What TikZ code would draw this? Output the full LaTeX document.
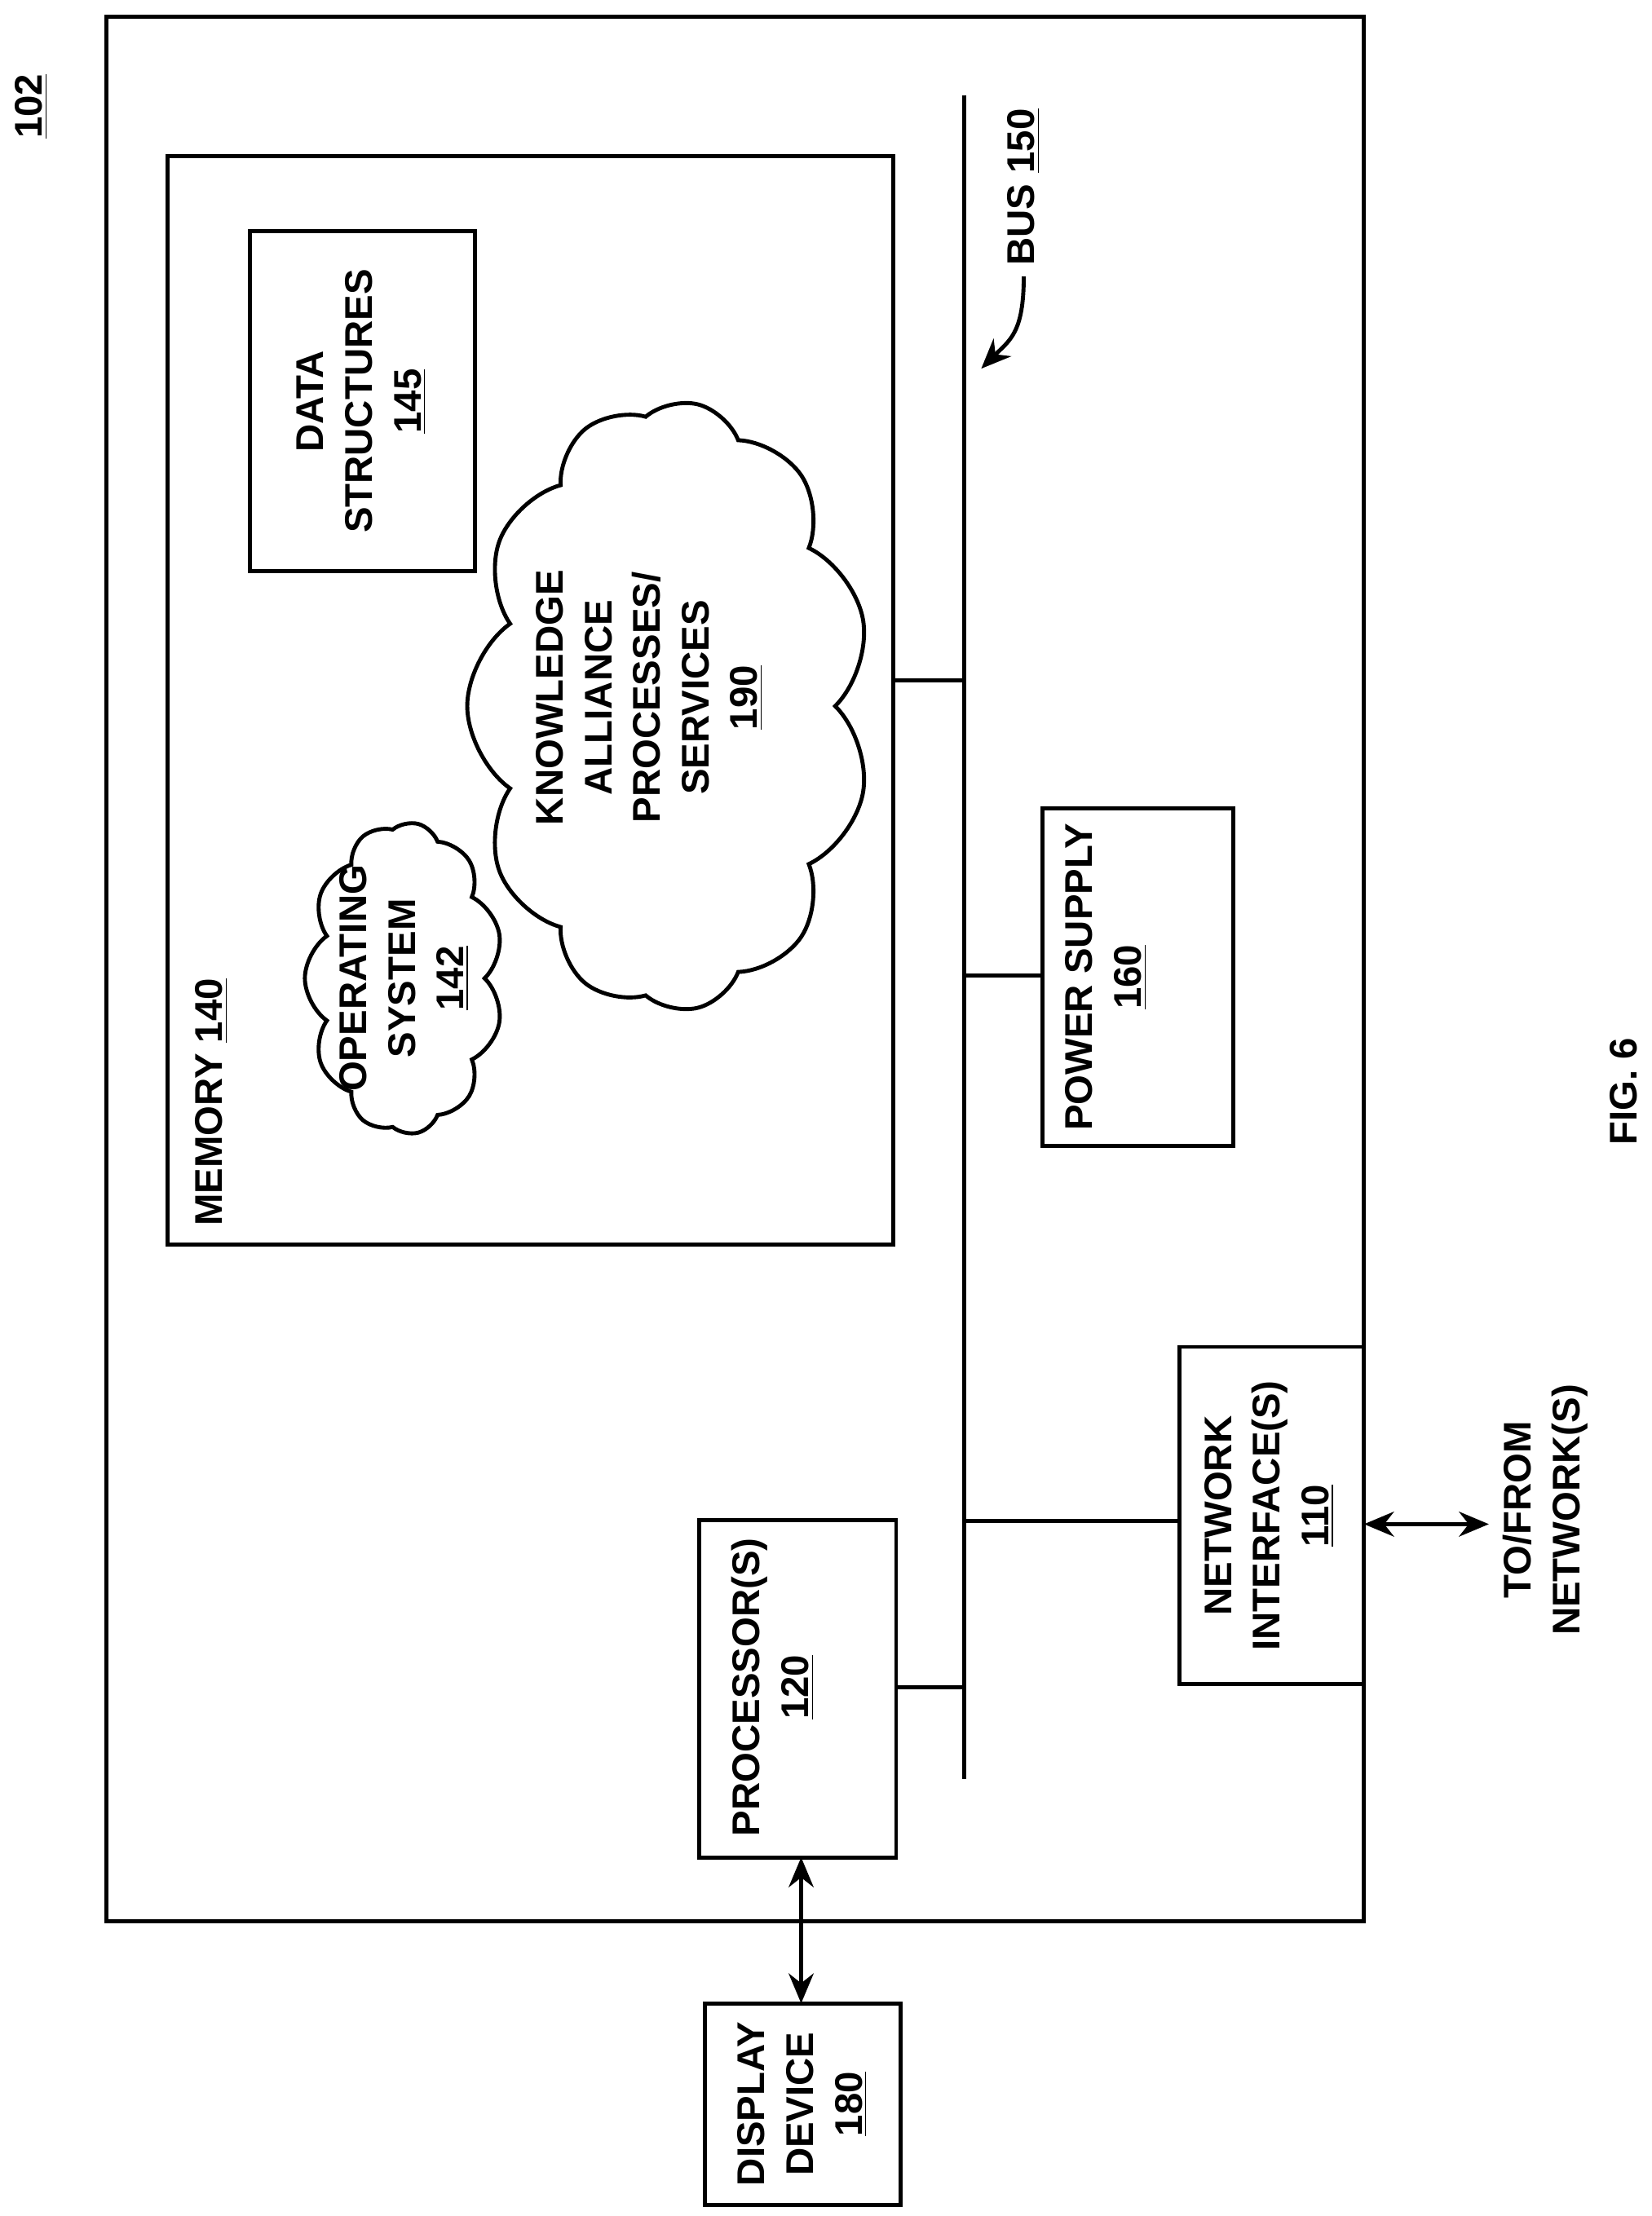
\documentclass[tikz,border=0pt]{standalone}
\usepackage{fontspec}
\setmainfont{Liberation Sans}
\usetikzlibrary{shapes.symbols,arrows.meta}
\begin{document}
\begin{tikzpicture}[x=0.02cm,y=-0.02cm,line width=1.6pt,
  txt/.style={rotate=90,align=center,font=\fontsize{15.5}{19.5}\selectfont\bfseries,inner sep=0pt},
  box/.style={draw},
  cl/.style={draw,cloud,cloud puffs=11,cloud puff arc=110,aspect=1.5,inner sep=0pt,rotate=90},
  dbl/.style={{Stealth[length=12pt,width=10pt]}-{Stealth[length=12pt,width=10pt]}}]
\useasboundingbox (0,0) rectangle (1165,1563);
\draw[box] (75,12) rectangle (962,1355);
\node[txt] (n102) at (22,75) {\underline{102}};
% memory
\draw[box] (118,110) rectangle (630,878);
\node[txt,anchor=south west] (mem) at (162,866) {MEMORY \underline{140}};
\draw[box] (176,163) rectangle (335,403);
\node[txt] (ds) at (255,283) {DATA\\STRUCTURES\\\underline{145}};
\node[cl,minimum width=8.6cm,minimum height=5.7cm] (kc) at (472,498) {};
\node[txt] (ka) at (458,492) {KNOWLEDGE\\ALLIANCE\\PROCESSES/\\SERVICES\\\underline{190}};
\node[cl,minimum width=4.4cm,minimum height=2.8cm] (oc) at (285,690) {};
\node[txt] (os) at (285,690) {OPERATING\\SYSTEM\\\underline{142}};
% bus
\coordinate (bt) at (680,67); \coordinate (bb) at (680,1255);
\draw (bt) -- (bb);
\node[txt] (bus) at (722,132) {BUS \underline{150}};
\coordinate (l1) at (722,195); \coordinate (l2) at (692,260);
\draw[-{Stealth[length=12pt,width=10pt]}] (l1) .. controls (722,235) and (712,240) .. (l2);
\draw (630,480) -- (680,480);
% power
\draw[box] (735,570) rectangle (870,808);
\node[txt] (ps) at (780,689) {POWER SUPPLY\\\underline{160}};
\draw (680,688) -- (735,688);
% network
\draw[box] (832,950) rectangle (962,1188);
\node[txt] (ni) at (895,1069) {NETWORK\\INTERFACE(S)\\\underline{110}};
\draw (680,1073) -- (832,1073);
\coordinate (na) at (962,1075); \coordinate (nb) at (1050,1075);
\draw[dbl] (na) -- (nb);
\node[txt] (tf) at (1090,1065) {TO/FROM\\NETWORK(S)};
% processor
\draw[box] (493,1072) rectangle (632,1310);
\node[txt] (pr) at (545,1190) {PROCESSOR(S)\\\underline{120}};
\draw (632,1190) -- (680,1190);
% display
\draw[box] (497,1413) rectangle (635,1555);
\node[txt] (dd) at (566,1484) {DISPLAY\\DEVICE\\\underline{180}};
\coordinate (da) at (565,1310); \coordinate (db) at (565,1413);
\draw[dbl] (da) -- (db);
\node[txt] (fig) at (1145,770) {FIG. 6};
\end{tikzpicture}
\end{document}
